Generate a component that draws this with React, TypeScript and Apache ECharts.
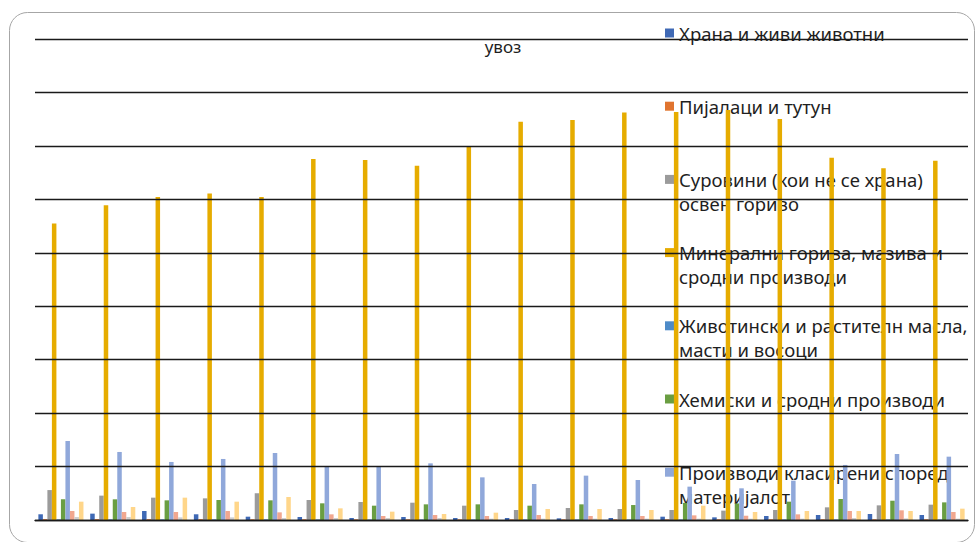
import React, { useEffect, useRef } from "react";
import * as echarts from "echarts";

const categories = ["1", "2", "3", "4", "5", "6", "7", "8", "9", "10", "11", "12", "13", "14", "15", "16", "17", "18"];

const seriesNames = [
  "Храна и живи животни",
  "Пијалаци и тутун",
  "Суровини (кои не се храна) освен гориво",
  "Минерални горива, мазива и сродни производи",
  "Животински и растителн масла, масти и восоци",
  "Хемиски и сродни производи",
  "Производи класирени според материјалот",
  "Машини и транспортни уреди",
  "Разни готови производи",
  "Непокриени стоки",
];

const legendLabels = [
  "Храна и живи животни",
  "Пијалаци и тутун",
  "Суровини (кои не се храна)\nосвен гориво",
  "Минерални горива, мазива и\nсродни производи",
  "Животински и растителн масла,\nмасти и восоци",
  "Хемиски и сродни производи",
  "Производи класирени според\nматеријалот",
];

const food = [10.7, 11.9, 16.8, 10.7, 6.2, 5.6, 3.7, 5.6, 3.7, 3.7, 3.1, 3.7, 6.2, 5, 7.5, 9.4, 11.2, 9.4];
const beverages = [1.5, 1.5, 1.5, 1.5, 1.3, 1.3, 1.2, 1.2, 1.2, 1.2, 1.2, 1.2, 1.2, 1.2, 1.2, 1.3, 1.3, 1.3];
const crude = [56, 45.6, 41.8, 40.5, 49.9, 37.4, 33.7, 32.4, 26.8, 18.7, 22.5, 20.6, 18.7, 17.5, 18.7, 23.7, 27.4, 28.7];
const fuels = [555, 589, 604.5, 611, 604.5, 675.6, 673.8, 663, 698.7, 745, 748.6, 762.3, 763.6, 767, 750.5, 678, 658, 672];
const oils = [1.2, 1.2, 1.2, 1.2, 1.2, 1, 1, 1, 1, 1, 1, 1, 1, 1, 1, 1, 1, 1];
const chemicals = [38.7, 38.7, 36.8, 37.4, 36.8, 31.2, 26.8, 29.3, 29.3, 26.8, 29.3, 28, 32, 31, 34.3, 39.3, 36.1, 33];
const manufactured = [147.8, 127.3, 108.6, 114.2, 125.4, 101, 101, 106, 79.8, 67.4, 83, 74.9, 62.4, 59.3, 73.6, 103, 123.5, 118.5];
const machinery = [16.8, 15, 15, 16.8, 14.3, 10.6, 7.5, 9.4, 7.5, 9.4, 7.5, 7.5, 8.7, 8, 10.6, 16.8, 18.1, 15];
const miscellaneous = [5.6, 5.6, 5, 5, 3.7, 3.7, 3.7, 3.7, 2.5, 2.5, 2.5, 2.5, 2.5, 2.5, 2.5, 3.7, 3, 2.5];
const other = [34.3, 24.3, 41.8, 34.3, 43, 21.8, 15.6, 11.2, 13.7, 20.6, 20.6, 18.7, 26.8, 15, 16.8, 16.8, 16.8, 21.2];

const seriesData = [food, beverages, crude, fuels, oils, chemicals, manufactured, machinery, miscellaneous, other];

const colors = ["#3F69B5", "#E0742F", "#9B9B9B", "#E6AC00", "#4E8BC8", "#6A9E42", "#90A8DA", "#F1A78F", "#CFCFCF", "#FFD68A"];

export default function App() {
  const ref = useRef<HTMLDivElement>(null);

  useEffect(() => {
    document.body.style.margin = "0";
    const chart = echarts.init(ref.current!, null, { renderer: "svg" });
    const font = "'Noto Sans', 'Liberation Sans', sans-serif";

    const legendData = legendLabels.map((lbl, i) => {
      const twoLine = lbl.indexOf("\n") >= 0;
      return {
        name: seriesNames[i],
        icon: "rect",
        textStyle: {
          padding: twoLine ? [0, 0, 0, 0] : [24, 0, 24, 0],
          backgroundColor: "transparent",
        },
      };
    });

    chart.setOption({
      animation: false,
      color: colors,
      title: {
        text: "увоз",
        left: 498,
        top: 33,
        textAlign: "center",
        textStyle: { fontFamily: font, fontSize: 17, fontWeight: "normal", color: "#1f1f1f" },
        z: 0,
      },
      graphic: [
        {
          type: "rect",
          z: -10,
          shape: { x: 9.5, y: 12.5, width: 965, height: 530, r: 18 },
          style: { fill: "#fff", stroke: "#A6A6A6", lineWidth: 1 },
        },
      ],
      legend: {
        orient: "vertical",
        left: 665,
        top: -3,
        padding: 0,
        itemGap: 1.2,
        itemWidth: 9,
        itemHeight: 9,
        z: 0,
        selectedMode: false,
        data: legendData,
        formatter: (name: string) => {
          const lbl = legendLabels[seriesNames.indexOf(name)];
          return lbl.indexOf("\n") >= 0 ? "\n" + lbl : lbl;
        },
        textStyle: { fontFamily: font, fontSize: 18.5, lineHeight: 24, color: "#1f1f1f" },
      },
      grid: { left: 35, right: 12, top: 39, bottom: 22, containLabel: false },
      xAxis: {
        type: "category",
        data: categories,
        axisLine: { show: true, lineStyle: { color: "#1a1a1a", width: 1.4 } },
        axisTick: { show: false },
        axisLabel: { show: false },
        z: 3,
      },
      yAxis: {
        type: "value",
        min: 0,
        max: 900,
        interval: 100,
        axisLine: { show: false },
        axisTick: { show: false },
        axisLabel: { show: false },
        splitLine: { show: true, lineStyle: { color: "#1a1a1a", width: 1.4 } },
        z: 3,
      },
      series: seriesData.map((d, i) => ({
        name: seriesNames[i],
        type: "bar",
        data: d,
        barGap: "0%",
        barCategoryGap: "13%",
        itemStyle: { color: colors[i] },
        z: 2,
      })),
    });

    return () => chart.dispose();
  }, []);

  return <div ref={ref} style={{ width: 980, height: 542 }} />;
}
